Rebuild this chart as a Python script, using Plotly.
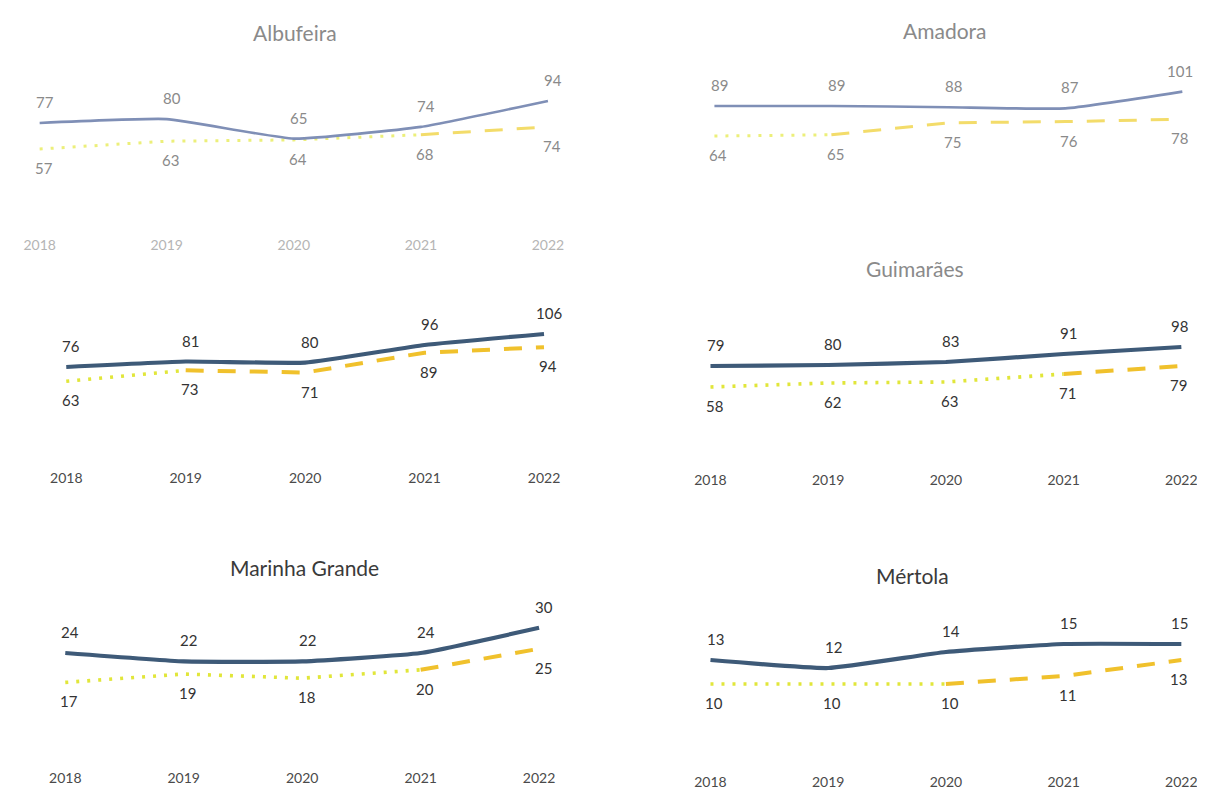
import plotly.graph_objects as go

# ---------------- data ----------------
years = [2018, 2019, 2020, 2021, 2022]
year_labels = ["2018", "2019", "2020", "2021", "2022"]

panel_titles = ["Albufeira", "Amadora", "", "Guimarães", "Marinha Grande", "Mértola"]

albufeira_solid = [77, 80, 65, 74, 94]
albufeira_yellow = [57, 63, 64, 68, 74]
amadora_solid = [89, 89, 88, 87, 101]
amadora_yellow = [64, 65, 75, 76, 78]
untitled_solid = [76, 81, 80, 96, 106]
untitled_yellow = [63, 73, 71, 89, 94]
guimaraes_solid = [79, 80, 83, 91, 98]
guimaraes_yellow = [58, 62, 63, 71, 79]
marinha_solid = [24, 22, 22, 24, 30]
marinha_yellow = [17, 19, 18, 20, 25]
mertola_solid = [13, 12, 14, 15, 15]
mertola_yellow = [10, 10, 10, 11, 13]

# index of the year where the yellow series switches from dotted to dashed
dash_from = [3, 1, 1, 3, 3, 2]

solid_series = [albufeira_solid, amadora_solid, untitled_solid,
                guimaraes_solid, marinha_solid, mertola_solid]
yellow_series = [albufeira_yellow, amadora_yellow, untitled_yellow,
                 guimaraes_yellow, marinha_yellow, mertola_yellow]

# ---------------- layout geometry (pixels) ----------------
W, H = 1205, 790
OX, OY = -8, -8  # compensate for page offset
geom = [
    dict(x0=31, x1=547, top=50, bot=235, av=77, ap=123, s=1.3, ticks=True, faded=True, tx=290, ty=32),
    dict(x0=716, x1=1191, top=50, bot=235, av=89, ap=106, s=1.2, ticks=False, faded=True, tx=950, ty=30),
    dict(x0=58, x1=543, top=290, bot=468, av=76, ap=367, s=1.1, ticks=True, faded=False, tx=300, ty=290),
    dict(x0=712, x1=1190, top=290, bot=470, av=79, ap=366, s=1.0, ticks=True, faded=False, tx=920, ty=268),
    dict(x0=57, x1=538, top=590, bot=768, av=24, ap=653, s=4.2, ticks=True, faded=False, tx=300, ty=567),
    dict(x0=712, x1=1190, top=600, bot=772, av=13, ap=660, s=8.0, ticks=True, faded=False, tx=917, ty=575),
]
title_dark = [False, False, False, False, True, True]

FONT = "Lato, 'Open Sans', sans-serif"
SOLID = "#3e5a78"
SOLID_FADED = "#7f8fb6"
DOT = "#e1e63a"
DASH = "#f0c12c"

fig = go.Figure()
annotations = []
layout_axes = {}
pad = 0.06  # years of padding on each side

for i in range(6):
    g = geom[i]
    n = "" if i == 0 else str(i + 1)
    xa, ya = "x" + n, "y" + n
    x0, x1 = g["x0"] + OX, g["x1"] + OX
    top, bot, ap = g["top"] + OY, g["bot"] + OY, g["ap"] + OY
    px_per_year = (x1 - x0) / 4.0
    dx0 = (x0 - pad * px_per_year) / W
    dx1 = min(1.0, (x1 + pad * px_per_year) / W)
    yr = [g["av"] - (bot - ap) / g["s"], g["av"] + (ap - top) / g["s"]]
    tick_col = "#b5b5b5" if g["faded"] else "#4a4a4a"
    layout_axes["xaxis" + n] = dict(
        domain=[dx0, dx1], range=[2018 - pad, 2022 + pad], anchor=ya,
        tickvals=years, ticktext=year_labels, showticklabels=g["ticks"],
        showgrid=False, zeroline=False, showline=False, ticks="",
        tickfont=dict(family=FONT, size=14, color=tick_col), fixedrange=True,
    )
    layout_axes["yaxis" + n] = dict(
        domain=[1 - bot / H, 1 - top / H], range=yr, anchor=xa,
        visible=False, fixedrange=True,
    )

    solid = solid_series[i]
    yellow = yellow_series[i]
    k = dash_from[i]
    faded = g["faded"]
    lw = 2.6 if faded else 4.2
    fig.add_trace(go.Scatter(
        x=years[:k + 1], y=yellow[:k + 1], mode="lines", xaxis=xa, yaxis=ya,
        line=dict(color="#ecef7a" if faded else DOT, width=3 if faded else 3.6,
                  dash="3px,8px"),
        hoverinfo="skip", showlegend=False))
    fig.add_trace(go.Scatter(
        x=years[k:], y=yellow[k:], mode="lines", xaxis=xa, yaxis=ya,
        line=dict(color="#f3dc6a" if faded else DASH, width=3 if faded else 4,
                  dash="18px,14px"),
        hoverinfo="skip", showlegend=False))
    fig.add_trace(go.Scatter(
        x=years, y=solid, mode="lines", xaxis=xa, yaxis=ya,
        line=dict(color=SOLID_FADED if faded else SOLID, width=lw, shape="spline", smoothing=0.4),
        hoverinfo="skip", showlegend=False))

    lab_col = "#8a8a8a" if faded else "#333333"
    right_col = i % 2 == 1
    for j, (yv, sv, yl) in enumerate(zip(years, solid, yellow)):
        xs = -2 if (right_col and j == len(years) - 1) else 5
        annotations.append(dict(x=yv, y=sv, xref=xa, yref=ya, text=str(sv),
                                showarrow=False, yshift=21, xshift=xs,
                                font=dict(family=FONT, size=15, color=lab_col)))
        annotations.append(dict(x=yv, y=yl, xref=xa, yref=ya, text=str(yl),
                                showarrow=False, yshift=-19, xshift=xs - 1,
                                font=dict(family=FONT, size=15, color=lab_col)))
    if panel_titles[i]:
        annotations.append(dict(x=(g["tx"] + OX) / W, y=1 - (g["ty"] + OY) / H,
                                xref="paper", yref="paper",
                                text=panel_titles[i], showarrow=False,
                                xanchor="center", yanchor="middle",
                                font=dict(family=FONT, size=21,
                                          color="#3a3a3a" if title_dark[i] else "#8a8a8a")))

fig.update_layout(
    width=W, height=H,
    margin=dict(l=0, r=0, t=0, b=0),
    paper_bgcolor="#ffffff", plot_bgcolor="rgba(0,0,0,0)",
    showlegend=False,
    annotations=annotations,
    **layout_axes,
)

fig.write_html("out.html")
